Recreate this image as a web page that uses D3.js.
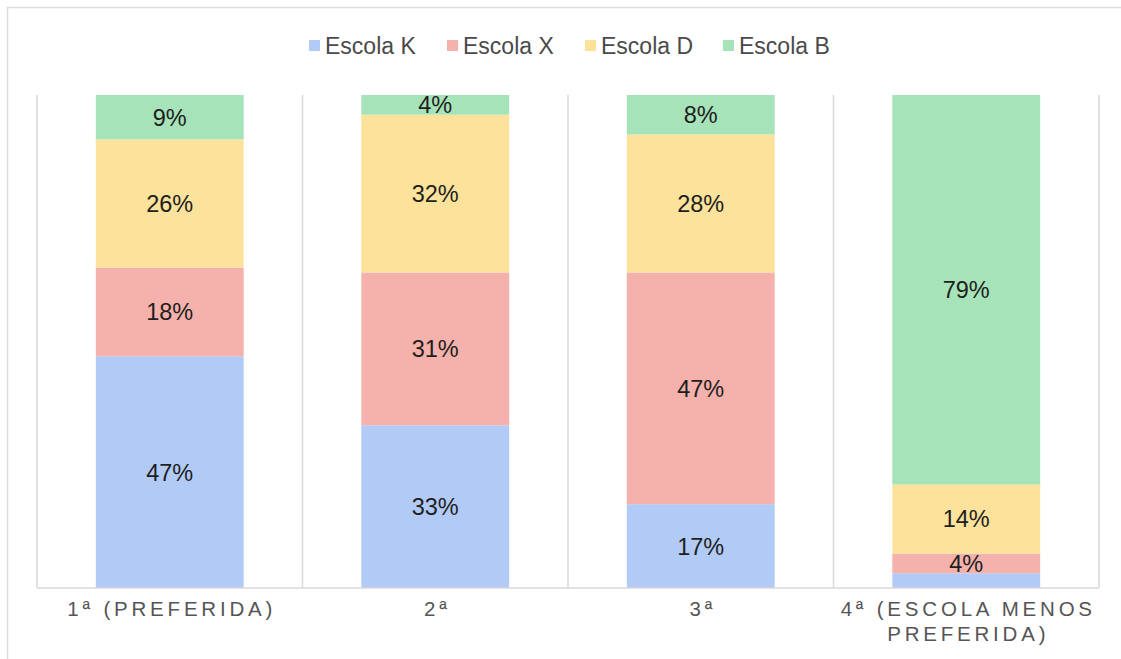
<!DOCTYPE html>
<html>
<head>
<meta charset="utf-8">
<script src="https://cdn.jsdelivr.net/npm/d3@7"></script>
<style>
  html, body { margin: 0; padding: 0; background: #fff; }
  svg { display: block; font-family: "Liberation Sans", Arial, sans-serif; }
</style>
</head>
<body>
<svg id="chart" width="1121" height="659"></svg>
<script>
// Order of preference for each school (percent of respondents)
const categories = ["1ª (PREFERIDA)", "2ª", "3ª", "4ª (ESCOLA MENOS PREFERIDA)"];
const schools = ["Escola K", "Escola X", "Escola D", "Escola B"];
const escolaK = [47, 33, 17, 3];
const escolaX = [18, 31, 47, 4];
const escolaD = [26, 32, 28, 14];
const escolaB = [9, 4, 8, 79];
const colors = ["#b2cbf6", "#f5b1ab", "#fce29b", "#a7e3b8"];

const seriesValues = [escolaK, escolaX, escolaD, escolaB];
const rows = categories.map((c, i) => {
  const r = { cat: c };
  schools.forEach((s, j) => { r[s] = seriesValues[j][i]; });
  return r;
});

const svg = d3.select("#chart");
const W = 1121, H = 659;
const plot = { left: 37, right: 1099, top: 95, bottom: 588 };
const gridColor = "#d9d9d9";

// Outer frame of the chart area
svg.append("rect")
  .attr("x", 7.5).attr("y", 7.5)
  .attr("width", W + 20).attr("height", H + 20)
  .attr("fill", "none").attr("stroke", "#dcdcdc").attr("stroke-width", 1.5);

const x = d3.scaleBand().domain(categories).range([plot.left, plot.right]).padding(0);
const y = d3.scaleLinear().domain([0, 100]).range([plot.bottom, plot.top]);
const barW = x.bandwidth() * 0.557;

// Vertical separators between categories
const seps = categories.map(c => x(c)).concat([plot.right]);
svg.append("g").selectAll("line").data(seps).join("line")
  .attr("x1", d => d).attr("x2", d => d)
  .attr("y1", plot.top).attr("y2", plot.bottom)
  .attr("stroke", gridColor).attr("stroke-width", 1.5);

const stack = d3.stack().keys(schools);
const layers = stack(rows);

const g = svg.append("g");
layers.forEach((layer, li) => {
  g.append("g").selectAll("rect").data(layer).join("rect")
    .attr("x", d => x(d.data.cat) + (x.bandwidth() - barW) / 2)
    .attr("width", barW)
    .attr("y", d => y(d[1]))
    .attr("height", d => y(d[0]) - y(d[1]))
    .attr("fill", colors[li]);
});

// Value labels inside segments
layers.forEach((layer, li) => {
  g.append("g").selectAll("text").data(layer.filter(d => d[1] - d[0] >= 3.5)).join("text")
    .attr("x", d => x(d.data.cat) + x.bandwidth() / 2)
    .attr("y", d => (y(d[0]) + y(d[1])) / 2)
    .attr("dy", "0.36em")
    .attr("text-anchor", "middle")
    .attr("font-size", 23.5)
    .attr("fill", "#1e1e1e")
    .text(d => Math.round(d[1] - d[0]) + "%");
});

// Baseline
svg.append("line")
  .attr("x1", plot.left).attr("x2", plot.right)
  .attr("y1", plot.bottom).attr("y2", plot.bottom)
  .attr("stroke", gridColor).attr("stroke-width", 1.5);

// Category axis labels, wrapped to the band width
const axisG = svg.append("g");
categories.forEach(c => {
  const cx = x(c) + x.bandwidth() / 2 + 2;
  const t = axisG.append("text")
    .attr("x", cx)
    .attr("y", 616)
    .attr("text-anchor", "middle")
    .attr("font-size", 20.5)
    .attr("letter-spacing", "3.8px")
    .attr("fill", "#555");
  const words = c.split(" ");
  let line = [];
  let tspan = t.append("tspan").attr("x", cx).attr("dy", 0);
  words.forEach(w => {
    line.push(w);
    tspan.text(line.join(" "));
    if (tspan.node().getComputedTextLength() > x.bandwidth() + 12 && line.length > 1) {
      line.pop();
      tspan.text(line.join(" "));
      line = [w];
      tspan = t.append("tspan").attr("x", cx).attr("dy", 25).text(w);
    }
  });
});

// Legend
const legendStep = 138;
const legendX0 = 309;
const legend = svg.append("g");
schools.forEach((s, i) => {
  const lx = legendX0 + i * legendStep;
  legend.append("rect")
    .attr("x", lx).attr("y", 40).attr("width", 11).attr("height", 11)
    .attr("fill", colors[i]);
  legend.append("text")
    .attr("x", lx + 16).attr("y", 46)
    .attr("dy", "0.36em")
    .attr("font-size", 23)
    .attr("fill", "#4a4a4a")
    .text(s);
});
</script>
</body>
</html>
